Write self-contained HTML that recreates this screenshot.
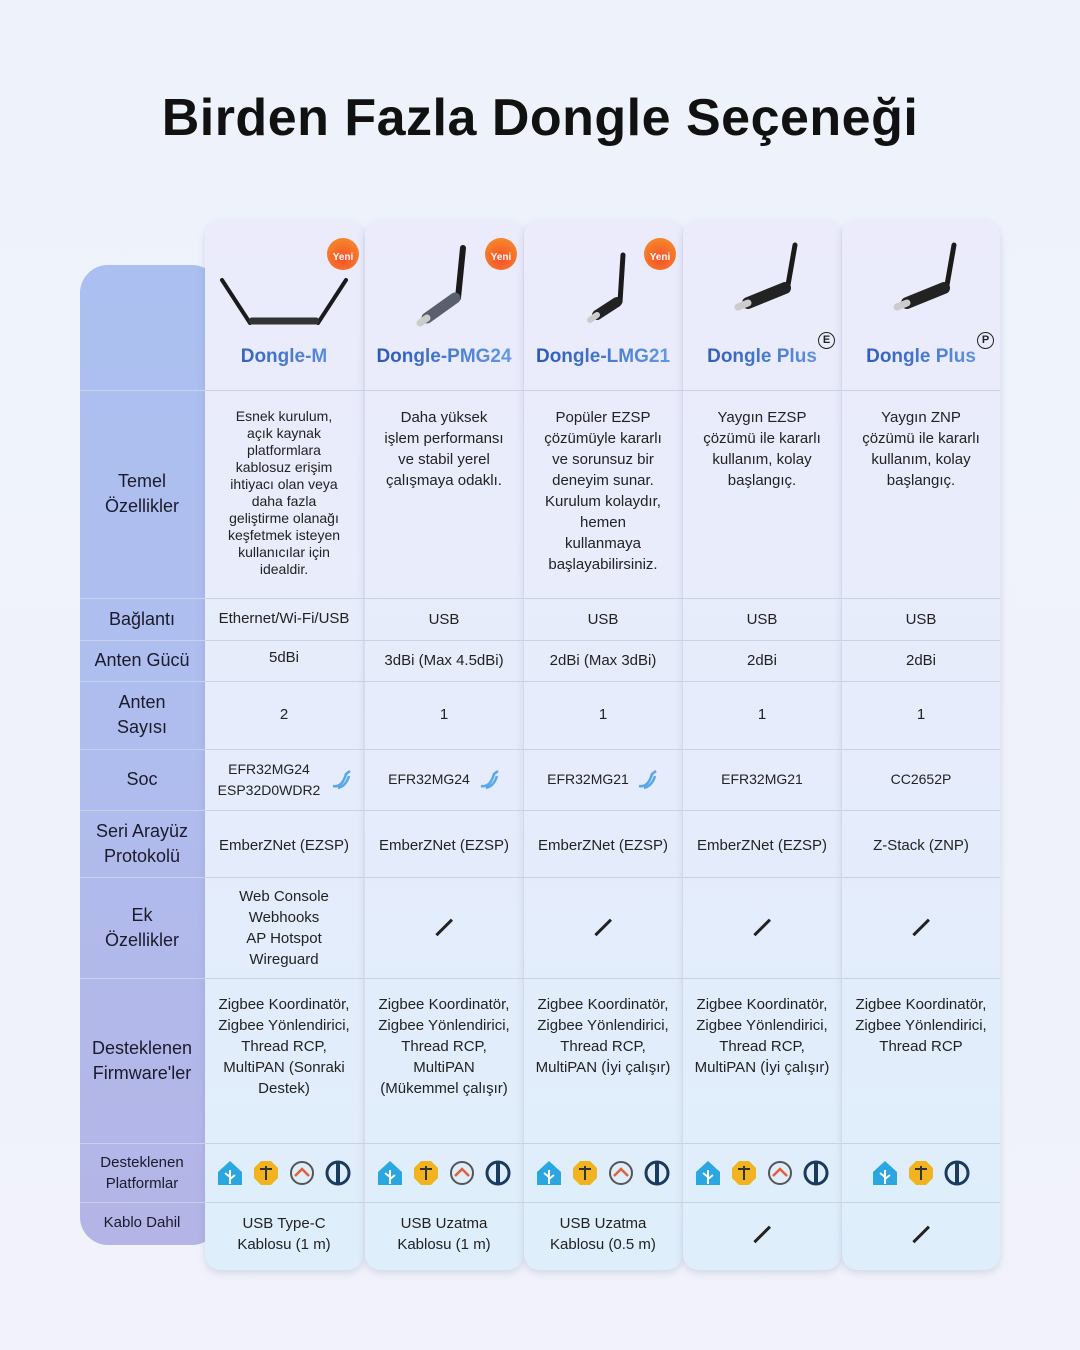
<!DOCTYPE html>
<html><head><meta charset="utf-8"><style>
*{margin:0;padding:0;box-sizing:border-box}
body{width:1080px;height:1350px;background:linear-gradient(180deg,#eef3fb 0%,#f1f2fb 100%);font-family:"Liberation Sans","DejaVu Sans",sans-serif;position:relative;overflow:hidden;color:#222}
h1{position:absolute;top:88px;left:0;width:1080px;text-align:center;font-size:52px;font-weight:bold;color:#111;letter-spacing:0.5px}
.left{position:absolute;left:80px;top:265px;width:140px;height:980px;border-radius:28px;background:linear-gradient(180deg,#abc0f0 0%,#afbdee 50%,#b4b4e6 100%)}
.card{position:absolute;top:220px;height:1050px;width:158px;border-radius:16px;background:linear-gradient(180deg,#ebebfb 0%,#e6ecfb 50%,#deeefb 100%);box-shadow:0 3px 8px rgba(120,130,170,.25)}
.c{position:absolute;display:flex;align-items:center;justify-content:center;text-align:center;font-size:15px;line-height:21px;color:#222}
.lab{position:absolute;left:80px;width:124px;display:flex;align-items:center;justify-content:center;text-align:center;font-size:18px;line-height:25px;color:#1b1b2b}
.hl{position:absolute;height:1px;background:#c9d1e4}
.name{position:absolute;top:346px;width:158px;text-align:center;font-size:19px;font-weight:bold;background:linear-gradient(90deg,#2452b5,#6a9ee8);-webkit-background-clip:text;color:transparent}
.yeni{position:absolute;top:238px;width:32px;height:32px;border-radius:50%;background:radial-gradient(circle at 50% 65%,#f5502a,#f7962a);color:#fff;font-size:10px;font-weight:bold;display:flex;align-items:center;justify-content:center;padding-top:6px}
.slash{width:22px;height:2.5px;background:#222;transform:rotate(-45deg)}
.ic{display:inline-block;width:26px;height:26px;margin:0 5px;vertical-align:middle}
</style></head><body>
<h1>Birden Fazla Dongle Seçeneği</h1>
<div class="left"></div>
<div class="card" style="left:205px"></div>
<div class="card" style="left:365px"></div>
<div class="card" style="left:524px"></div>
<div class="card" style="left:683px"></div>
<div class="card" style="left:842px"></div>

<div class="hl" style="left:80px;width:920px;top:390px"></div>
<div class="hl" style="left:80px;width:920px;top:598px"></div>
<div class="hl" style="left:80px;width:920px;top:640px"></div>
<div class="hl" style="left:80px;width:920px;top:681px"></div>
<div class="hl" style="left:80px;width:920px;top:749px"></div>
<div class="hl" style="left:80px;width:920px;top:810px"></div>
<div class="hl" style="left:80px;width:920px;top:877px"></div>
<div class="hl" style="left:80px;width:920px;top:978px"></div>
<div class="hl" style="left:80px;width:920px;top:1143px"></div>
<div class="hl" style="left:80px;width:920px;top:1202px"></div>

<svg style="position:absolute;left:205px;top:220px" width="800" height="120">
<g stroke="#1a1a1a" stroke-linecap="round">
<line x1="17" y1="60" x2="45" y2="103" stroke-width="4"/><line x1="141" y1="60" x2="113" y2="103" stroke-width="4"/>
<line x1="47" y1="101" x2="111" y2="101" stroke-width="7" stroke="#333"/>
<line x1="258" y1="28" x2="253" y2="78" stroke-width="6"/>
<line x1="250" y1="78" x2="222" y2="98" stroke-width="11" stroke="#5a5f6e"/>
<line x1="222" y1="98" x2="215" y2="103" stroke-width="7" stroke="#ccc"/>
<line x1="418" y1="35" x2="415" y2="82" stroke-width="5"/>
<line x1="412" y1="82" x2="392" y2="95" stroke-width="10" stroke="#222"/>
<line x1="392" y1="95" x2="385" y2="100" stroke-width="6" stroke="#ccc"/>
<line x1="590" y1="25" x2="583" y2="65" stroke-width="5"/>
<line x1="580" y1="68" x2="543" y2="83" stroke-width="12" stroke="#222"/>
<line x1="543" y1="83" x2="533" y2="87" stroke-width="7" stroke="#ccc"/>
<line x1="749" y1="25" x2="742" y2="65" stroke-width="5"/>
<line x1="739" y1="68" x2="702" y2="83" stroke-width="12" stroke="#222"/>
<line x1="702" y1="83" x2="692" y2="87" stroke-width="7" stroke="#ccc"/>
</g></svg>
<div class="yeni" style="left:327px">Yeni</div>
<div class="yeni" style="left:485px">Yeni</div>
<div class="yeni" style="left:644px">Yeni</div>
<div style="position:absolute;left:818px;top:332px;width:17px;height:17px;border:1.5px solid #222;border-radius:50%;font-size:11px;font-weight:bold;text-align:center;line-height:14px">E</div>
<div style="position:absolute;left:977px;top:332px;width:17px;height:17px;border:1.5px solid #222;border-radius:50%;font-size:11px;font-weight:bold;text-align:center;line-height:14px">P</div>
<div class="name" style="left:205px">Dongle-M</div>
<div class="name" style="left:365px">Dongle-PMG24</div>
<div class="name" style="left:524px">Dongle-LMG21</div>
<div class="name" style="left:683px">Dongle Plus</div>
<div class="name" style="left:842px">Dongle Plus</div>

<div class="lab" style="top:390px;height:208px">Temel<br>Özellikler</div>
<div class="lab" style="top:598px;height:42px">Bağlantı</div>
<div class="lab" style="top:640px;height:41px">Anten Gücü</div>
<div class="lab" style="top:681px;height:68px">Anten<br>Sayısı</div>
<div class="lab" style="top:749px;height:61px">Soc</div>
<div class="lab" style="top:810px;height:67px">Seri Arayüz<br>Protokolü</div>
<div class="lab" style="top:877px;height:101px">Ek<br>Özellikler</div>
<div class="lab" style="top:978px;height:165px">Desteklenen<br>Firmware'ler</div>
<div class="lab" style="top:1143px;height:59px;font-size:15px;line-height:21px">Desteklenen<br>Platformlar</div>
<div class="lab" style="top:1202px;height:40px;font-size:15px">Kablo Dahil</div>

<div class="c" style="left:205px;width:158px;top:408px;height:180px;font-size:14px;line-height:17px;align-items:flex-start">Esnek kurulum,<br>açık kaynak<br>platformlara<br>kablosuz erişim<br>ihtiyacı olan veya<br>daha fazla<br>geliştirme olanağı<br>keşfetmek isteyen<br>kullanıcılar için<br>idealdir.</div>
<div class="c" style="left:365px;width:158px;top:407px;height:180px;align-items:flex-start">Daha yüksek<br>işlem performansı<br>ve stabil yerel<br>çalışmaya odaklı.</div>
<div class="c" style="left:524px;width:158px;top:407px;height:180px;align-items:flex-start">Popüler EZSP<br>çözümüyle kararlı<br>ve sorunsuz bir<br>deneyim sunar.<br>Kurulum kolaydır,<br>hemen<br>kullanmaya<br>başlayabilirsiniz.</div>
<div class="c" style="left:683px;width:158px;top:407px;height:180px;align-items:flex-start">Yaygın EZSP<br>çözümü ile kararlı<br>kullanım, kolay<br>başlangıç.</div>
<div class="c" style="left:842px;width:158px;top:407px;height:180px;align-items:flex-start">Yaygın ZNP<br>çözümü ile kararlı<br>kullanım, kolay<br>başlangıç.</div>

<div class="c" style="left:205px;width:158px;top:598px;height:40px">Ethernet/Wi-Fi/USB</div>
<div class="c" style="left:365px;width:158px;top:598px;height:42px">USB</div>
<div class="c" style="left:524px;width:158px;top:598px;height:42px">USB</div>
<div class="c" style="left:683px;width:158px;top:598px;height:42px">USB</div>
<div class="c" style="left:842px;width:158px;top:598px;height:42px">USB</div>
<div class="c" style="left:205px;width:158px;top:640px;height:34px">5dBi</div>
<div class="c" style="left:365px;width:158px;top:640px;height:41px">3dBi (Max 4.5dBi)</div>
<div class="c" style="left:524px;width:158px;top:640px;height:41px">2dBi (Max 3dBi)</div>
<div class="c" style="left:683px;width:158px;top:640px;height:41px">2dBi</div>
<div class="c" style="left:842px;width:158px;top:640px;height:41px">2dBi</div>
<div class="c" style="left:205px;width:158px;top:681px;height:66px">2</div>
<div class="c" style="left:365px;width:158px;top:681px;height:66px">1</div>
<div class="c" style="left:524px;width:158px;top:681px;height:66px">1</div>
<div class="c" style="left:683px;width:158px;top:681px;height:66px">1</div>
<div class="c" style="left:842px;width:158px;top:681px;height:66px">1</div>
<div class="c" style="left:205px;width:128px;top:749px;height:61px;font-size:14px">EFR32MG24<br>ESP32D0WDR2</div>
<div class="c" style="left:365px;width:128px;top:749px;height:61px;font-size:14px">EFR32MG24</div>
<div class="c" style="left:524px;width:128px;top:749px;height:61px;font-size:14px">EFR32MG21</div>
<div class="c" style="left:683px;width:158px;top:749px;height:61px;font-size:14px">EFR32MG21</div>
<div class="c" style="left:842px;width:158px;top:749px;height:61px;font-size:14px">CC2652P</div>
<svg style="position:absolute;left:330px;top:768px" width="24" height="24"><path d="M3 18 Q12 20 16 6 l4 -3 M8 20 Q16 18 19 8" stroke="#5aa8e8" stroke-width="2.5" fill="none"/></svg>
<svg style="position:absolute;left:478px;top:768px" width="24" height="24"><path d="M3 18 Q12 20 16 6 l4 -3 M8 20 Q16 18 19 8" stroke="#5aa8e8" stroke-width="2.5" fill="none"/></svg>
<svg style="position:absolute;left:636px;top:768px" width="24" height="24"><path d="M3 18 Q12 20 16 6 l4 -3 M8 20 Q16 18 19 8" stroke="#5aa8e8" stroke-width="2.5" fill="none"/></svg>
<div class="c" style="left:205px;width:158px;top:810px;height:70px">EmberZNet (EZSP)</div>
<div class="c" style="left:365px;width:158px;top:810px;height:70px">EmberZNet (EZSP)</div>
<div class="c" style="left:524px;width:158px;top:810px;height:70px">EmberZNet (EZSP)</div>
<div class="c" style="left:683px;width:158px;top:810px;height:70px">EmberZNet (EZSP)</div>
<div class="c" style="left:842px;width:158px;top:810px;height:70px">Z-Stack (ZNP)</div>
<div class="c" style="left:205px;width:158px;top:877px;height:101px">Web Console<br>Webhooks<br>AP Hotspot<br>Wireguard</div>
<div class="c" style="left:365px;width:158px;top:877px;height:101px"><div class="slash"></div></div>
<div class="c" style="left:524px;width:158px;top:877px;height:101px"><div class="slash"></div></div>
<div class="c" style="left:683px;width:158px;top:877px;height:101px"><div class="slash"></div></div>
<div class="c" style="left:842px;width:158px;top:877px;height:101px"><div class="slash"></div></div>
<div class="c" style="left:205px;width:158px;top:994px;align-items:flex-start">Zigbee Koordinatör,<br>Zigbee Yönlendirici,<br>Thread RCP,<br>MultiPAN (Sonraki<br>Destek)</div>
<div class="c" style="left:365px;width:158px;top:994px;align-items:flex-start">Zigbee Koordinatör,<br>Zigbee Yönlendirici,<br>Thread RCP,<br>MultiPAN<br>(Mükemmel çalışır)</div>
<div class="c" style="left:524px;width:158px;top:994px;align-items:flex-start">Zigbee Koordinatör,<br>Zigbee Yönlendirici,<br>Thread RCP,<br>MultiPAN (İyi çalışır)</div>
<div class="c" style="left:683px;width:158px;top:994px;align-items:flex-start">Zigbee Koordinatör,<br>Zigbee Yönlendirici,<br>Thread RCP,<br>MultiPAN (İyi çalışır)</div>
<div class="c" style="left:842px;width:158px;top:994px;align-items:flex-start">Zigbee Koordinatör,<br>Zigbee Yönlendirici,<br>Thread RCP</div>

<svg width="0" height="0" style="position:absolute"><defs>
<g id="ha"><path d="M13 1 L25 12 V25 H1 V12 Z" fill="#2aa6e0"/><path d="M13 24 V10 M13 17 L8 13 M13 19 L18 15" stroke="#fff" stroke-width="2" fill="none"/></g>
<g id="mq"><polygon points="8,1 18,1 25,8 25,18 18,25 8,25 1,18 1,8" fill="#f2b320"/><path d="M7 9 H19 M13 6 V20" stroke="#333" stroke-width="2"/></g>
<g id="ob"><circle cx="13" cy="13" r="11" fill="none" stroke="#555" stroke-width="2"/><path d="M6 16 L13 9 L20 16" stroke="#e2603a" stroke-width="2.5" fill="none"/></g>
<g id="io"><circle cx="13" cy="13" r="11" fill="none" stroke="#1a3a5e" stroke-width="3"/><rect x="11" y="3" width="4" height="20" fill="#1a3a5e"/></g>
</defs></svg>
<div class="c" style="left:205px;width:158px;top:1143px;height:59px"><svg class="ic"><use href="#ha"/></svg><svg class="ic"><use href="#mq"/></svg><svg class="ic"><use href="#ob"/></svg><svg class="ic"><use href="#io"/></svg></div>
<div class="c" style="left:365px;width:158px;top:1143px;height:59px"><svg class="ic"><use href="#ha"/></svg><svg class="ic"><use href="#mq"/></svg><svg class="ic"><use href="#ob"/></svg><svg class="ic"><use href="#io"/></svg></div>
<div class="c" style="left:524px;width:158px;top:1143px;height:59px"><svg class="ic"><use href="#ha"/></svg><svg class="ic"><use href="#mq"/></svg><svg class="ic"><use href="#ob"/></svg><svg class="ic"><use href="#io"/></svg></div>
<div class="c" style="left:683px;width:158px;top:1143px;height:59px"><svg class="ic"><use href="#ha"/></svg><svg class="ic"><use href="#mq"/></svg><svg class="ic"><use href="#ob"/></svg><svg class="ic"><use href="#io"/></svg></div>
<div class="c" style="left:842px;width:158px;top:1143px;height:59px"><svg class="ic"><use href="#ha"/></svg><svg class="ic"><use href="#mq"/></svg><svg class="ic"><use href="#io"/></svg></div>

<div class="c" style="left:205px;width:158px;top:1202px;height:64px">USB Type-C<br>Kablosu (1 m)</div>
<div class="c" style="left:365px;width:158px;top:1202px;height:64px">USB Uzatma<br>Kablosu (1 m)</div>
<div class="c" style="left:524px;width:158px;top:1202px;height:64px">USB Uzatma<br>Kablosu (0.5 m)</div>
<div class="c" style="left:683px;width:158px;top:1202px;height:64px"><div class="slash"></div></div>
<div class="c" style="left:842px;width:158px;top:1202px;height:64px"><div class="slash"></div></div>
</body></html>
